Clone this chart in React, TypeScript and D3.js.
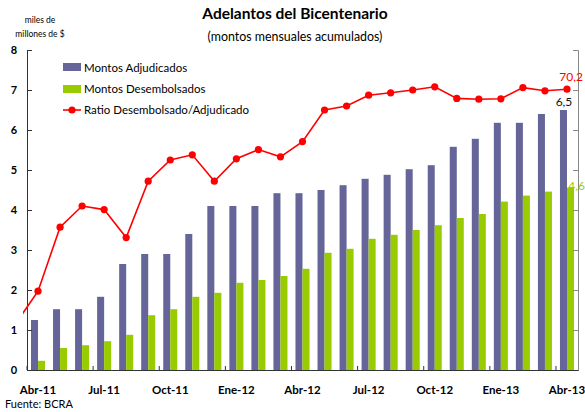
import React, { useEffect, useRef } from 'react';
import * as d3 from 'd3';

const WIDTH = 585;
const HEIGHT = 412;
const FONT = 'Lato, "Open Sans", sans-serif';

const months = [
  'Abr-11', 'May-11', 'Jun-11', 'Jul-11', 'Ago-11', 'Sep-11', 'Oct-11', 'Nov-11', 'Dic-11',
  'Ene-12', 'Feb-12', 'Mar-12', 'Abr-12', 'May-12', 'Jun-12', 'Jul-12', 'Ago-12', 'Sep-12',
  'Oct-12', 'Nov-12', 'Dic-12', 'Ene-13', 'Feb-13', 'Mar-13', 'Abr-13',
];
const tickLabels = ['Abr-11', 'Jul-11', 'Oct-11', 'Ene-12', 'Abr-12', 'Jul-12', 'Oct-12', 'Ene-13', 'Abr-13'];

// miles de millones de $
const adjudicados = [
  1.25, 1.52, 1.52, 1.83, 2.65, 2.9, 2.9, 3.4, 4.1, 4.1, 4.1, 4.42, 4.42, 4.5, 4.62,
  4.78, 4.88, 5.02, 5.12, 5.58, 5.78, 6.18, 6.18, 6.4, 6.5,
];
const desembolsados = [
  0.23, 0.55, 0.62, 0.72, 0.88, 1.37, 1.52, 1.83, 1.93, 2.18, 2.25, 2.35, 2.53, 2.93, 3.03,
  3.28, 3.38, 3.5, 3.62, 3.8, 3.9, 4.21, 4.36, 4.46, 4.56,
];
// ratio %, starts one month earlier (Mar-11), partly hidden behind the axis
const ratioMonths = ['Mar-11', ...months];
const ratio = [
  11.7, 19.7, 35.7, 41.0, 40.1, 33.1, 47.2, 52.5, 53.8, 47.2, 52.8, 55.1, 53.3, 57.1, 65.0,
  66.0, 68.7, 69.3, 70.0, 70.8, 67.9, 67.7, 67.8, 70.6, 69.8, 70.2,
];
const yTicks = [0, 1, 2, 3, 4, 5, 6, 7, 8];

const PURPLE = '#65659a';
const GREEN = '#99cc00';
const RED = '#ff0000';

export default function App() {
  const ref = useRef<SVGSVGElement>(null);

  useEffect(() => {
    const svg = d3.select(ref.current);
    svg.selectAll('*').remove();

    const left = 27, right = 578, top = 50, bottom = 370;

    const x = d3.scaleBand<string>().domain(months).range([left, right]);
    const inner = d3.scaleBand<string>()
      .domain(['adj', 'des'])
      .range([0, x.bandwidth()])
      .paddingInner(0)
      .paddingOuter(0.57);
    const y = d3.scaleLinear().domain([0, 8]).range([bottom, top]);
    const y2 = d3.scaleLinear().domain([0, 80]).range([bottom, top]);
    const step = x.step();
    const xRatio = (m: string) => m === 'Mar-11'
      ? (x('Abr-11') as number) - step + step / 2
      : (x(m) as number) + step / 2;

    // titles
    svg.append('text').attr('x', 295).attr('y', 19).attr('text-anchor', 'middle')
      .attr('font-size', 15.5).attr('font-weight', 'bold').text('Adelantos del Bicentenario');
    svg.append('text').attr('x', 295).attr('y', 41).attr('text-anchor', 'middle')
      .attr('font-size', 12.4).text('(montos mensuales acumulados)');
    svg.append('text').attr('x', 40).attr('y', 23).attr('text-anchor', 'middle')
      .attr('font-size', 8.5).text('miles de');
    svg.append('text').attr('x', 40).attr('y', 37).attr('text-anchor', 'middle')
      .attr('font-size', 8.5).text('millones de $');

    // bars
    const g = svg.append('g');
    g.selectAll('rect.adj').data(adjudicados).join('rect')
      .attr('class', 'adj')
      .attr('x', (d, i) => (x(months[i]) as number) + (inner('adj') as number))
      .attr('width', inner.bandwidth())
      .attr('y', d => y(d))
      .attr('height', d => y(0) - y(d))
      .attr('fill', PURPLE);
    g.selectAll('rect.des').data(desembolsados).join('rect')
      .attr('class', 'des')
      .attr('x', (d, i) => (x(months[i]) as number) + (inner('des') as number))
      .attr('width', inner.bandwidth())
      .attr('y', d => y(d))
      .attr('height', d => y(0) - y(d))
      .attr('fill', GREEN);

    // axes
    const yAxis = svg.append('g').attr('transform', `translate(${left},0)`)
      .call(d3.axisRight(y).tickValues(yTicks).tickSize(5).tickFormat(() => ''));
    yAxis.select('.domain').attr('stroke', '#333');
    yAxis.selectAll('.tick line').attr('stroke', '#333');
    svg.append('g').selectAll('text').data(yTicks).join('text')
      .attr('x', 14).attr('y', d => y(d) + 4).attr('text-anchor', 'middle')
      .attr('font-size', 11).attr('font-weight', 'bold').text(d => d);

    const y2Axis = svg.append('g').attr('transform', `translate(${right},0)`)
      .call(d3.axisLeft(y2).ticks(8).tickSize(5).tickFormat(() => ''));
    y2Axis.select('.domain').attr('stroke', '#888');
    y2Axis.selectAll('.tick line').attr('stroke', '#888');

    const xAxis = svg.append('g').attr('transform', `translate(0,${bottom})`)
      .call(d3.axisTop(x).tickValues(tickLabels).tickSize(4).tickSizeOuter(0).tickFormat(() => ''));
    xAxis.selectAll('.tick').attr('transform', d => `translate(${x(d as string)},0)`);
    xAxis.select('.domain').attr('stroke', '#333');
    xAxis.selectAll('.tick line').attr('stroke', '#333');
    svg.append('g').selectAll('text').data(tickLabels).join('text')
      .attr('x', d => (x(d) as number) + step / 2).attr('y', 394).attr('text-anchor', 'middle')
      .attr('font-size', 11.5).attr('font-weight', 'bold').text(d => d);

    // ratio line
    svg.append('clipPath').attr('id', 'clip').append('rect')
      .attr('x', 23).attr('y', 0).attr('width', WIDTH).attr('height', HEIGHT);
    const line = d3.line<number>()
      .x((d, i) => xRatio(ratioMonths[i]))
      .y(d => y2(d));
    const lg = svg.append('g').attr('clip-path', 'url(#clip)');
    lg.append('path').datum(ratio).attr('d', line)
      .attr('fill', 'none').attr('stroke', RED).attr('stroke-width', 1.6);
    lg.selectAll('circle').data(ratio.slice(1)).join('circle')
      .attr('cx', (d, i) => xRatio(months[i]))
      .attr('cy', d => y2(d))
      .attr('r', 3.6).attr('fill', RED);

    // end labels
    const last = months.length - 1;
    const lastX = (x(months[last]) as number) + step / 2;
    svg.append('text').attr('x', lastX + 16).attr('y', y2(ratio[ratio.length - 1]) - 8)
      .attr('text-anchor', 'end').attr('font-size', 12).attr('fill', RED)
      .text(d3.format('.1f')(ratio[ratio.length - 1]).replace('.', ','));
    svg.append('text').attr('x', lastX - 3).attr('y', y(adjudicados[last]) - 4)
      .attr('text-anchor', 'middle').attr('font-size', 12).attr('fill', '#111')
      .text(d3.format('.1f')(adjudicados[last]).replace('.', ','));
    svg.append('text').attr('x', lastX + 18).attr('y', y(desembolsados[last]) + 2)
      .attr('text-anchor', 'end').attr('font-size', 12).attr('fill', GREEN)
      .text(d3.format('.1f')(desembolsados[last]).replace('.', ','));

    // legend
    const legend = svg.append('g').attr('transform', 'translate(63,0)');
    legend.append('rect').attr('x', 0).attr('y', 63).attr('width', 18).attr('height', 8).attr('fill', PURPLE);
    legend.append('rect').attr('x', 0).attr('y', 85).attr('width', 18).attr('height', 8).attr('fill', GREEN);
    legend.append('line').attr('x1', 0).attr('x2', 18).attr('y1', 110).attr('y2', 110)
      .attr('stroke', RED).attr('stroke-width', 1.6);
    legend.append('circle').attr('cx', 9).attr('cy', 110).attr('r', 3.6).attr('fill', RED);
    const names = ['Montos Adjudicados', 'Montos Desembolsados', 'Ratio Desembolsado/Adjudicado'];
    legend.selectAll('text.l').data(names).join('text')
      .attr('class', 'l')
      .attr('x', 21).attr('y', (d, i) => 71.5 + i * 21)
      .attr('font-size', 11.5).text(d => d);

    svg.append('text').attr('x', 5).attr('y', 408).attr('font-size', 11).text('Fuente: BCRA');
  }, []);

  return (
    <svg
      ref={ref}
      width={WIDTH}
      height={HEIGHT}
      style={{ position: 'absolute', left: 0, top: 0, fontFamily: FONT, background: '#fff' }}
    />
  );
}
